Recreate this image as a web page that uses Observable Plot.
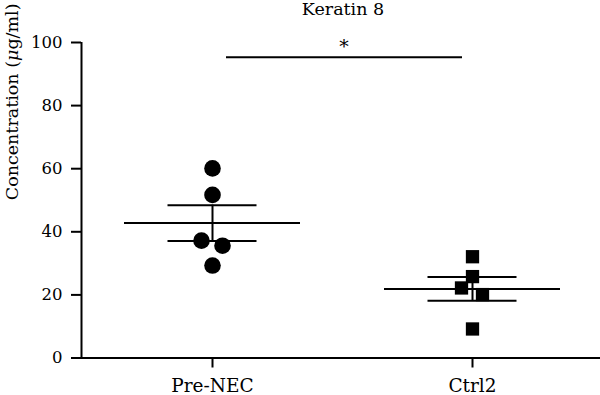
<!DOCTYPE html>
<html>
<head>
<meta charset="utf-8">
<script src="https://cdn.jsdelivr.net/npm/d3@7"></script>
<script src="https://cdn.jsdelivr.net/npm/@observablehq/plot@0.6"></script>
<style>
  html, body { margin: 0; padding: 0; background: #fff; }
</style>
</head>
<body>
<div id="chart"></div>
<script>
// ---- data ----
const title = "Keratin 8";
const yLabel = "Concentration (μg/ml)";
const groups = ["Pre-NEC", "Ctrl2"];
const preNEC = [60.1, 51.7, 37.2, 35.6, 29.3];
const ctrl2 = [32.1, 25.8, 22.2, 20.1, 9.2];
const yTicks = [0, 20, 40, 60, 80, 100];
const sigLabel = "*";
const sigY = 95.3;

// ---- derived tables ----
const valuesByGroup = {"Pre-NEC": preNEC, "Ctrl2": ctrl2};
const overlap = 3; // value units: points closer than this are set side by side
const points = [];
for (const g of groups) {
  const vals = valuesByGroup[g].slice().sort((a, b) => b - a);
  const side = vals.map(() => 0);
  for (let i = 0; i < vals.length - 1; i++) {
    if (side[i] === 0 && side[i + 1] === 0 && vals[i] - vals[i + 1] < overlap) {
      side[i] = -1; side[i + 1] = 1;
    }
  }
  vals.forEach((v, i) => points.push({group: g, value: v, side: side[i]}));
}
const stats = groups.map(g => {
  const v = valuesByGroup[g];
  const mean = d3.mean(v);
  const sem = d3.deviation(v) / Math.sqrt(v.length);
  return {group: g, mean, lo: mean - sem, hi: mean + sem};
});

const font = "DejaVu Serif";
const lw = 2;
const sideDx = {"-1": -11, "0": 0, "1": 10};

const dotMarks = [-1, 0, 1].map(s => Plot.dot(points.filter(d => d.side === s), {
  x: "group", y: "value",
  symbol: "group",
  r: d => d.group === groups[0] ? 8.3 : 7.5,
  fill: "black", stroke: "none",
  dx: sideDx[s]
}));

const chart = Plot.plot({
  width: 600,
  height: 395,
  marginLeft: 81,
  marginRight: 0,
  marginTop: 42,
  marginBottom: 37.5,
  style: {fontFamily: font, fontSize: "17px", background: "white", color: "black", overflow: "visible"},
  x: {type: "band", domain: groups, range: [82, 602], padding: 0, label: null},
  y: {domain: [0, 100], label: null},
  symbol: {domain: groups, range: ["circle", "square"]},
  r: {type: "identity"},
  marks: [
    Plot.axisY({ticks: yTicks, tickSize: 10, tickPadding: 9, strokeWidth: lw, label: null, fontSize: 16.5, fontFamily: font}),
    Plot.axisX({tickSize: 10, tickPadding: 11, strokeWidth: lw, label: null, fontSize: 18.5, fontFamily: font}),
    Plot.ruleY([0], {strokeWidth: lw}),
    Plot.ruleX([0], {x: () => groups[0], y1: 0, y2: 100, dx: -131, strokeWidth: lw}),
    // mean ± SEM
    Plot.ruleX(stats, {x: "group", y1: "lo", y2: "hi", strokeWidth: lw}),
    Plot.tickY(stats, {x: "group", y: "mean", insetLeft: 42, insetRight: 42, strokeWidth: lw}),
    Plot.tickY(stats, {x: "group", y: "hi", insetLeft: 85.5, insetRight: 85.5, strokeWidth: lw}),
    Plot.tickY(stats, {x: "group", y: "lo", insetLeft: 85.5, insetRight: 85.5, strokeWidth: lw}),
    ...dotMarks,
    // significance bar
    Plot.ruleY([sigY], {x1: [groups[0]], x2: [groups[1]], insetLeft: 144, insetRight: 140, strokeWidth: lw}),
    Plot.text([sigLabel], {y: [sigY], frameAnchor: "middle", lineAnchor: "middle", dy: -10, dx: 3, fontSize: 19, fontFamily: font}),
    // title
    Plot.text([title], {frameAnchor: "top", lineAnchor: "middle", dy: -33, dx: 2, fontSize: 17.5, fontFamily: font}),
    // y label
    Plot.text([yLabel], {frameAnchor: "left", lineAnchor: "middle", rotate: -90, dx: -69, fontSize: 17.5, fontFamily: font})
  ]
});

// italic mu in the y label
const labelNode = [...chart.querySelectorAll("text")].find(t => t.textContent === yLabel);
if (labelNode) {
  const parts = yLabel.split("μ");
  labelNode.textContent = "";
  const ns = "http://www.w3.org/2000/svg";
  const t1 = document.createElementNS(ns, "tspan"); t1.textContent = parts[0];
  const t2 = document.createElementNS(ns, "tspan"); t2.textContent = "μ"; t2.setAttribute("font-style", "italic");
  const t3 = document.createElementNS(ns, "tspan"); t3.textContent = parts[1];
  labelNode.append(t1, t2, t3);
}

document.getElementById("chart").append(chart);
</script>
</body>
</html>
